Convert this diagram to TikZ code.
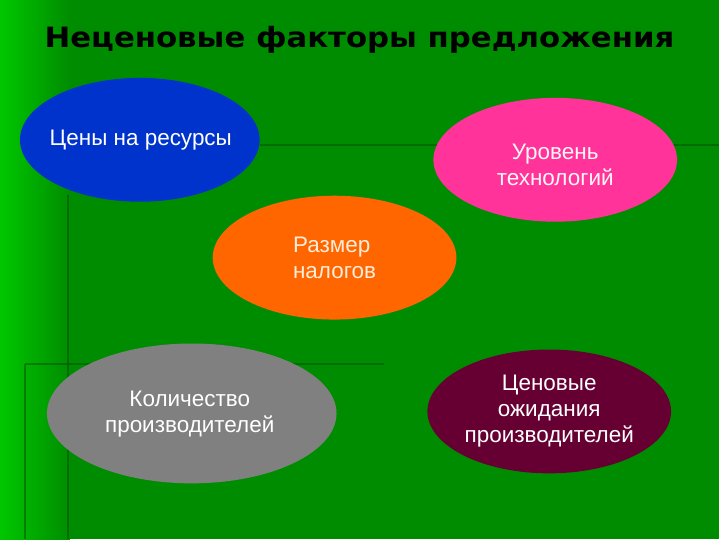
\documentclass[tikz,border=0pt]{standalone}
\usepackage{fontspec}
\setmainfont{Liberation Sans}
\newfontfamily\titlefont{DejaVu Sans}
\usetikzlibrary{shapes.geometric}
\begin{document}
\begin{tikzpicture}[x=1pt,y=-1pt,
  lbl/.style={text=white, font=\fontsize{22.5}{26}\selectfont, align=center},
  bgline/.style={draw=green!30!black, line width=2pt, opacity=0.5}]
\fill[green!55!black] (0,0) rectangle (720,540);
\shade[left color=green!78!black, right color=green!55!black] (0,0) rectangle (70,540);
\draw[bgline] (260,145) -- (720,145);
\draw[bgline] (68,195) -- (68,540);
\draw[bgline] (25,365) -- (385,365);
\draw[bgline] (25,365) -- (25,540);
\node (title) [font=\titlefont\bfseries\fontsize{28}{32}\selectfont, xscale=1.1] at (360,40) {Неценовые факторы предложения};
\fill[fill={rgb,255:red,0;green,51;blue,204}] (140,140) ellipse [x radius=120, y radius=62];
\node (a) [lbl] at (141,140) {Цены на ресурсы};
\fill[fill={rgb,255:red,255;green,51;blue,153}] (556,160) ellipse [x radius=122, y radius=62];
\node (b) [lbl, text=white!85!pink] at (556,165) {Уровень\\технологий};
\fill[fill={rgb,255:red,255;green,102;blue,0}] (335,258) ellipse [x radius=122, y radius=62];
\node (c) [lbl, align=left, text=white!85!orange] at (335,258) {Размер\\налогов};
\fill[fill={rgb,255:red,128;green,128;blue,128}] (192,414) ellipse [x radius=145, y radius=70];
\node (d) [lbl] at (190,415) {Количество\\производителей};
\fill[fill={rgb,255:red,102;green,0;blue,51}] (550,412) ellipse [x radius=122, y radius=62];
\node (e) [lbl] at (550,412) {Ценовые\\ожидания\\производителей};
\useasboundingbox (0,0) rectangle (720,540);
\end{tikzpicture}
\end{document}
